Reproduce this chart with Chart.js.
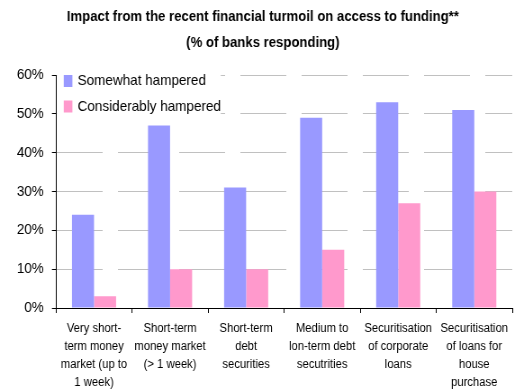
<!DOCTYPE html>
<html>
<head>
<meta charset="utf-8">
<script src="https://cdn.jsdelivr.net/npm/chart.js@4/dist/chart.umd.min.js"></script>
<style>
  html, body { margin: 0; padding: 0; background: #fff; overflow: hidden; }
  #wrap { width: 582px; height: 391px; transform: scaleX(0.9003); transform-origin: 0 0; }
  canvas { display: block; }
</style>
</head>
<body>
<div id="wrap"><canvas id="chart" width="582" height="391"></canvas></div>
<script>
// Funding channels surveyed
const categories = [
  ["Very short-", "term money", "market (up to", "1 week)"],
  ["Short-term", "money market", "(> 1 week)"],
  ["Short-term", "debt", "securities"],
  ["Medium to", "lon-term debt", "secutrities"],
  ["Securitisation", "of corporate", "loans"],
  ["Securitisation", "of loans for", "house", "purchase"]
];

// Share of banks responding (%)
const somewhatHampered = [24, 47, 31, 49, 53, 51];
const considerablyHampered = [3, 10, 10, 15, 27, 30];

// Value axis
const yMin = 0;
const yMax = 60;
const yStep = 10;

const seriesNames = ["Somewhat hampered", "Considerably hampered"];
const titleLines = ["Impact from the recent financial turmoil on access to funding**", "(% of banks responding)"];

const FONT = "'Liberation Sans', Arial, sans-serif";

// Two-line heading centred over the whole canvas
const heading = {
  id: 'heading',
  afterDraw(chart) {
    const ctx = chart.ctx;
    ctx.save();
    ctx.fillStyle = '#000000';
    ctx.font = 'bold 14.6px ' + FONT;
    ctx.textAlign = 'center';
    ctx.textBaseline = 'middle';
    const cx = chart.width / 2 + 1;
    titleLines.forEach((line, i) => ctx.fillText(line, cx, 17 + i * 26));
    ctx.restore();
  }
};

// Legend drawn inside the plot area on a white panel
const insideLegend = {
  id: 'insideLegend',
  afterDatasetsDraw(chart) {
    const ctx = chart.ctx;
    const area = chart.chartArea;
    ctx.save();
    ctx.fillStyle = '#ffffff';
    ctx.fillRect(area.left + 1, area.top - 6, 182, 51);
    ctx.font = '15px ' + FONT;
    ctx.textBaseline = 'middle';
    ctx.textAlign = 'left';
    chart.data.datasets.forEach((ds, i) => {
      const cy = area.top + 6 + i * 25.5;
      ctx.fillStyle = ds.backgroundColor;
      ctx.fillRect(area.left + 8.6, cy - 6, 9.6, 12);
      ctx.fillStyle = '#000000';
      ctx.fillText(ds.label, area.left + 24, cy);
    });
    ctx.restore();
  }
};

new Chart(document.getElementById('chart'), {
  type: 'bar',
  data: {
    labels: categories,
    datasets: [
      { label: seriesNames[0], data: somewhatHampered, backgroundColor: '#9999FF', borderWidth: 0 },
      { label: seriesNames[1], data: considerablyHampered, backgroundColor: '#FF99CC', borderWidth: 0 }
    ]
  },
  options: {
    responsive: false,
    animation: false,
    devicePixelRatio: 1,
    layout: { padding: { left: 0, right: 13, top: 75, bottom: 0 } },
    datasets: { bar: { categoryPercentage: 0.58, barPercentage: 1.0 } },
    plugins: {
      legend: { display: false },
      tooltip: { enabled: false },
      title: { display: false }
    },
    scales: {
      x: {
        grid: {
          display: true,
          drawOnChartArea: false,
          drawTicks: true,
          tickLength: 5,
          tickColor: '#000',
          offset: true
        },
        border: { display: true, color: '#000', width: 1 },
        ticks: {
          autoSkip: false,
          maxRotation: 0,
          minRotation: 0,
          padding: 6,
          color: '#000',
          font: { family: FONT, size: 12.5, lineHeight: 1.46 }
        },
        afterFit(scale) { scale.height = 83; }
      },
      y: {
        min: yMin,
        max: yMax,
        grid: {
          color: '#C0C0C0',
          lineWidth: 1,
          drawTicks: true,
          tickLength: 4.5,
          tickColor: '#000',
          tickBorderDash: []
        },
        border: { display: true, color: '#000', width: 1, dash: [51, 17], dashOffset: 0 },
        ticks: {
          stepSize: yStep,
          padding: 9,
          color: '#000',
          font: { family: FONT, size: 15 },
          callback: (v) => v + '%'
        },
        afterFit(scale) { scale.width = 62.2; }
      }
    }
  },
  plugins: [insideLegend, heading]
});
</script>
</body>
</html>
